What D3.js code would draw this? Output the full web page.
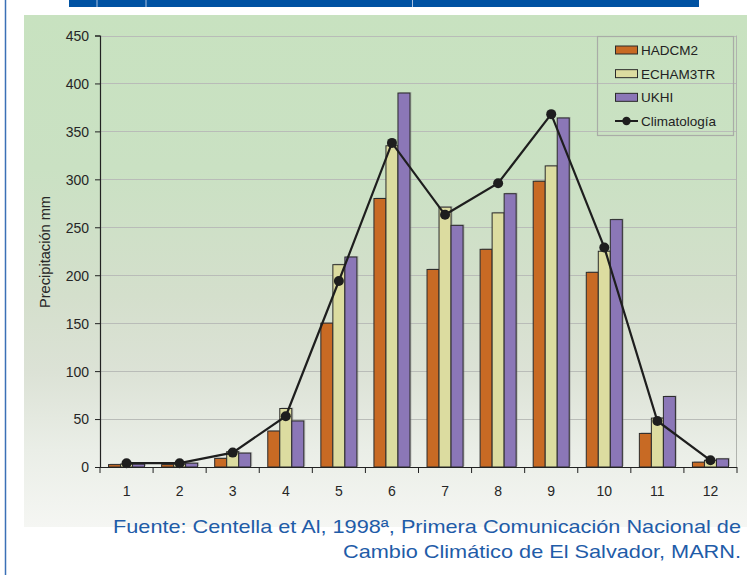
<!DOCTYPE html>
<html>
<head>
<meta charset="utf-8">
<script src="https://cdn.jsdelivr.net/npm/d3@7"></script>
<style>
  body { margin: 0; background: #fff; }
  svg { display: block; font-family: "Liberation Sans", Arial, sans-serif; }
</style>
</head>
<body>
<svg id="chart" width="753" height="575"></svg>
<script>
// months
var months = ["1","2","3","4","5","6","7","8","9","10","11","12"];
var seriesNames = ["HADCM2","ECHAM3TR","UKHI"];
var hadcm2   = [2.5, 2.5, 9, 37.5, 150, 280, 206, 227, 298, 203, 35, 5];
var echam3tr = [3, 3, 16, 61, 211, 335, 271, 265, 314, 225, 51, 7];
var ukhi     = [3, 4, 14.5, 48, 219, 390, 252, 285, 364, 258, 73.5, 8.5];
var climatologia = [4, 4, 15, 53, 194, 338, 263, 296, 368, 229, 48, 7];
var yTicks = [0,50,100,150,200,250,300,350,400,450];
var colors = ["#c86a24","#dcdca0","#8b77b7"];
var source1 = "Fuente: Centella et Al, 1998ª, Primera Comunicación Nacional de";
var source2 = "Cambio Climático de El Salvador, MARN.";

var svg = d3.select("#chart");

var defs = svg.append("defs");
var grad = defs.append("linearGradient")
    .attr("id","bg")
    .attr("x1",0).attr("y1",0).attr("x2",0).attr("y2",1);
[[0,"#c8e2c0"],[0.3,"#cae1c3"],[0.55,"#d4dfcc"],[0.7,"#dce2d6"],[0.85,"#eaeee7"],[1,"#f5f6f3"]]
  .forEach(function(s){ grad.append("stop").attr("offset",s[0]).attr("stop-color",s[1]); });

// page decoration
svg.append("line").attr("x1",5.5).attr("x2",5.5).attr("y1",0).attr("y2",575)
    .attr("stroke","#3b70b6").attr("stroke-width",1.5);
svg.append("rect").attr("x",69).attr("y",0).attr("width",630).attr("height",7)
    .attr("fill","#0052a2");
[97,146,412.5].forEach(function(x){
  svg.append("line").attr("x1",x).attr("x2",x).attr("y1",0).attr("y2",7)
    .attr("stroke","#a9c0e0").attr("stroke-width",1);
});
svg.append("rect").attr("x",24).attr("y",15).attr("width",723).attr("height",512)
    .attr("fill","url(#bg)");

var x = d3.scaleBand().domain(months).range([100,737]).padding(0);
var xs = d3.scaleBand().domain(seriesNames).range([0, x.bandwidth()])
    .paddingInner(0).paddingOuter(0.71);
var y = d3.scaleLinear().domain([0,450]).range([467,35.5]);

// gridlines
svg.append("g").selectAll("line").data(yTicks.slice(1)).enter().append("line")
    .attr("x1",100).attr("x2",737)
    .attr("y1",function(d){ return Math.round(y(d))+0.5; })
    .attr("y2",function(d){ return Math.round(y(d))+0.5; })
    .attr("stroke","#b9bcb8").attr("stroke-width",1);
svg.append("line").attr("x1",736.5).attr("x2",736.5).attr("y1",y(450)).attr("y2",y(0))
    .attr("stroke","#b0b3ae");

// bars
var allSeries = [hadcm2, echam3tr, ukhi];
var bars = [];
allSeries.forEach(function(vals, si){
  vals.forEach(function(v, i){ bars.push({m: months[i], s: seriesNames[si], v: v, c: colors[si]}); });
});
var gb = svg.append("g");
gb.selectAll("rect.sh").data(bars).enter().append("rect")
    .attr("class","sh")
    .attr("x",function(d){ return x(d.m)+xs(d.s)+1.5; })
    .attr("y",function(d){ return y(d.v)-1; })
    .attr("width",xs.bandwidth())
    .attr("height",function(d){ return y(0)-y(d.v); })
    .attr("fill","#8a8a8a").attr("opacity",0.45);
gb.selectAll("rect.bar").data(bars).enter().append("rect")
    .attr("class","bar")
    .attr("x",function(d){ return x(d.m)+xs(d.s); })
    .attr("y",function(d){ return y(d.v); })
    .attr("width",xs.bandwidth())
    .attr("height",function(d){ return y(0)-y(d.v); })
    .attr("fill",function(d){ return d.c; })
    .attr("stroke","#2b2b2b").attr("stroke-width",1);

// climatology line
var line = d3.line()
    .x(function(d,i){ return x(months[i]) + x.bandwidth()/2; })
    .y(function(d){ return y(d); });
svg.append("path").datum(climatologia)
    .attr("d",line).attr("fill","none")
    .attr("stroke","#1e1e1e").attr("stroke-width",2.2);
svg.append("g").selectAll("circle").data(climatologia).enter().append("circle")
    .attr("cx",function(d,i){ return x(months[i]) + x.bandwidth()/2; })
    .attr("cy",function(d){ return y(d); })
    .attr("r",5).attr("fill","#1e1e1e");

// axes
var yAxis = svg.append("g").attr("transform","translate(100,0)")
    .call(d3.axisLeft(y).tickValues(yTicks).tickSize(5).tickPadding(6));
var xAxis = svg.append("g").attr("transform","translate(0,467)")
    .call(d3.axisBottom(x).tickSize(0).tickPadding(17));
xAxis.selectAll("text").attr("dy","0");
xAxis.append("g").selectAll("line").data(d3.range(13)).enter().append("line")
    .attr("x1",function(d){ return 100 + d*x.step(); })
    .attr("x2",function(d){ return 100 + d*x.step(); })
    .attr("y1",0).attr("y2",6).attr("stroke","#222");
[yAxis, xAxis].forEach(function(a){
  a.select(".domain").attr("stroke","#222").attr("stroke-width",1.2);
  a.selectAll(".tick line").attr("stroke","#222");
  a.selectAll("text").attr("fill","#262626").style("font-size","14px")
    .style("font-family","'Liberation Sans', Arial, sans-serif");
});
xAxis.select(".domain").attr("d","M100,0.5H737");
yAxis.selectAll(".tick text").attr("dy","0.35em");
xAxis.selectAll(".tick text").attr("y",29);

svg.append("text")
    .attr("transform","translate(50,252) rotate(-90)")
    .attr("text-anchor","middle")
    .attr("fill","#262626").style("font-size","14px")
    .attr("textLength",112).attr("lengthAdjust","spacingAndGlyphs")
    .text("Precipitación mm");

// legend
var lg = svg.append("g");
lg.append("rect").attr("x",597.5).attr("y",36.5).attr("width",136).attr("height",99)
    .attr("fill","none").attr("stroke","#a9aca7").attr("stroke-width",1.2);
var legendItems = seriesNames.concat(["Climatología"]);
var ly = d3.scalePoint().domain(legendItems).range([50,121]);
legendItems.forEach(function(name, i){
  var yy = ly(name);
  if (i < 3) {
    lg.append("rect").attr("x",615.5).attr("y",yy-4).attr("width",22).attr("height",8)
      .attr("fill",colors[i]).attr("stroke","#2b2b2b");
  } else {
    lg.append("line").attr("x1",615).attr("x2",638).attr("y1",yy).attr("y2",yy)
      .attr("stroke","#1e1e1e").attr("stroke-width",2);
    lg.append("circle").attr("cx",626.5).attr("cy",yy).attr("r",4.2).attr("fill","#1e1e1e");
  }
  lg.append("text").attr("x",641).attr("y",yy).attr("dy","0.36em")
    .attr("fill","#222").style("font-size","13.5px").text(name);
});

// source
var s1 = svg.append("text").attr("x",741).attr("y",533).attr("text-anchor","end")
    .attr("fill","#1f5ca8").style("font-size","19px").text(source1);
var s2 = svg.append("text").attr("x",741).attr("y",558).attr("text-anchor","end")
    .attr("fill","#1f5ca8").style("font-size","19px").text(source2);
s1.attr("textLength",628).attr("lengthAdjust","spacingAndGlyphs");
s2.attr("textLength",398).attr("lengthAdjust","spacingAndGlyphs");
</script>
</body>
</html>
